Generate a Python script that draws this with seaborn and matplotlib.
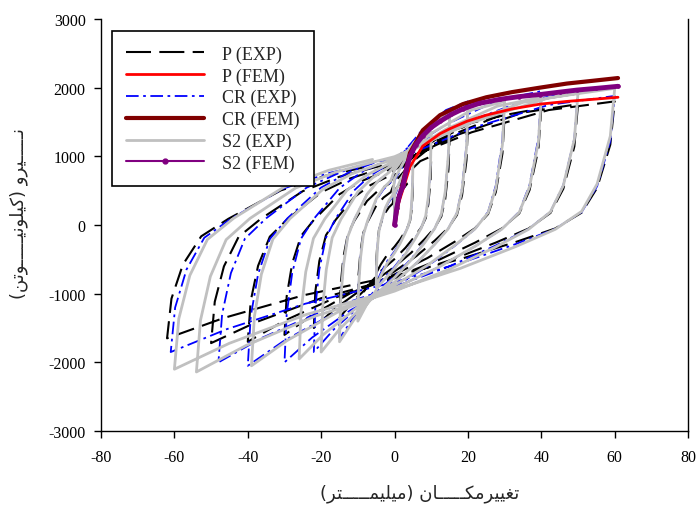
import matplotlib
matplotlib.use("Agg")
import matplotlib.pyplot as plt
from matplotlib.lines import Line2D
import seaborn as sns

# ---- data (displacement mm, force kN) ----
# P (EXP) - black dashed
p_exp_x = [0,
    0, 1.75, 3.5, 5, 4.9, 4.6, 4.25, 3.65, 2.75, 1.5, 0, -2, -3.75, -5, -4.9, -4.65, -4.25, -3.65, -2.5, -1.5, -0.5,
    0, 3.5, 7, 10, 9.8, 9.2, 8.5, 7.3, 5.5, 3, 0, -4, -7.5, -10, -9.8, -9.3, -8.5, -7.3, -5, -3, -1,
    0, 5.25, 10.5, 15, 14.7, 13.8, 12.75, 10.95, 8.25, 4.5, 0, -6, -11.25, -15, -14.7, -13.95, -12.75, -10.95, -7.5, -4.5, -1.5,
    0, 7, 14, 20, 19.6, 18.4, 17, 14.6, 11, 6, 0, -8.8, -16.5, -22, -21.6, -20.5, -18.7, -16.1, -11, -6.6, -2.2,
    0, 10.5, 21, 30, 29.4, 27.6, 25.5, 21.9, 16.5, 9, 0, -12, -22.5, -30, -29.4, -27.9, -25.5, -21.9, -15, -9, -3,
    0, 14, 28, 40, 39.2, 36.8, 34, 29.2, 22, 12, 0, -16, -30, -40, -39.2, -37.2, -34, -29.2, -20, -12, -4,
    0, 17.5, 35, 50, 49, 46, 42.5, 36.5, 27.5, 15, 0, -20, -37.5, -50, -49, -46.5, -42.5, -36.5, -25, -15, -5,
    0, 21, 42, 60, 58.8, 55.2, 51, 43.8, 33, 18, 0, -24.8, -46.5, -62, -60.8, -57.7, -52.7, -45.3, -31, -18.6, -6.2]
p_exp_y = [0,
    325, 488, 604, 650, 422, 195, 65, -21, -105, -210, -315, -434, -574, -700, -455, -245, -70, 32, 182, 260, 312,
    500, 750, 930, 1000, 650, 300, 100, -33, -165, -330, -495, -682, -902, -1100, -715, -385, -110, 50, 280, 400, 480,
    625, 938, 1162, 1250, 812, 375, 125, -40, -202, -405, -608, -837, -1107, -1350, -878, -472, -135, 62, 350, 500, 600,
    725, 1088, 1348, 1450, 942, 435, 145, -45, -225, -450, -675, -930, -1230, -1500, -975, -525, -150, 72, 406, 580, 696,
    800, 1200, 1488, 1600, 1040, 480, 160, -48, -240, -480, -720, -992, -1312, -1600, -1040, -560, -160, 80, 448, 640, 768,
    850, 1275, 1581, 1700, 1105, 510, 170, -51, -255, -510, -765, -1054, -1394, -1700, -1105, -595, -170, 85, 476, 680, 816,
    880, 1320, 1637, 1760, 1144, 528, 176, -52, -258, -516, -774, -1066, -1410, -1720, -1118, -602, -172, 88, 493, 704, 845,
    900, 1350, 1674, 1800, 1170, 540, 180, -50, -248, -495, -742, -1023, -1353, -1650, -1072, -578, -165, 90, 504, 720, 864]

# CR (EXP) - blue dash-dot
cr_exp_x = [0,
    0, 1.75, 3.5, 5, 4.9, 4.6, 4.25, 3.65, 2.75, 1.5, 0, -2, -3.75, -5, -4.9, -4.65, -4.25, -3.65, -2.5, -1.5, -0.5,
    0, 3.5, 7, 10, 9.8, 9.2, 8.5, 7.3, 5.5, 3, 0, -4, -7.5, -10, -9.8, -9.3, -8.5, -7.3, -5, -3, -1,
    0, 5.25, 10.5, 15, 14.7, 13.8, 12.75, 10.95, 8.25, 4.5, 0, -6, -11.25, -15, -14.7, -13.95, -12.75, -10.95, -7.5, -4.5, -1.5,
    0, 7, 14, 20, 19.6, 18.4, 17, 14.6, 11, 6, 0, -8.8, -16.5, -22, -21.6, -20.5, -18.7, -16.1, -11, -6.6, -2.2,
    0, 10.5, 21, 30, 29.4, 27.6, 25.5, 21.9, 16.5, 9, 0, -12, -22.5, -30, -29.4, -27.9, -25.5, -21.9, -15, -9, -3,
    0, 14, 28, 40, 39.2, 36.8, 34, 29.2, 22, 12, 0, -16, -30, -40, -39.2, -37.2, -34, -29.2, -20, -12, -4,
    0, 17.5, 35, 50, 49, 46, 42.5, 36.5, 27.5, 15, 0, -19.2, -36, -48, -47, -44.6, -40.8, -35, -24, -14.4, -4.8,
    0, 21, 42, 60, 58.8, 55.2, 51, 43.8, 33, 18, 0, -24.4, -45.75, -61, -59.8, -56.7, -51.85, -44.5, -30.5, -18.3, -6.1]
cr_exp_y = [0,
    425, 638, 790, 850, 552, 255, 85, -26, -128, -255, -382, -527, -697, -850, -552, -298, -85, 42, 238, 340, 408,
    650, 975, 1209, 1300, 845, 390, 130, -40, -202, -405, -608, -837, -1107, -1350, -878, -472, -135, 65, 364, 520, 624,
    800, 1200, 1488, 1600, 1040, 480, 160, -50, -248, -495, -742, -1023, -1353, -1650, -1072, -578, -165, 80, 448, 640, 768,
    900, 1350, 1674, 1800, 1170, 540, 180, -56, -278, -555, -832, -1147, -1517, -1850, -1202, -648, -185, 90, 504, 720, 864,
    960, 1440, 1786, 1920, 1248, 576, 192, -60, -300, -600, -900, -1240, -1640, -2000, -1300, -700, -200, 96, 538, 768, 922,
    975, 1462, 1814, 1950, 1268, 585, 195, -62, -308, -615, -922, -1271, -1681, -2050, -1332, -718, -205, 98, 546, 780, 936,
    970, 1455, 1804, 1940, 1261, 582, 194, -60, -300, -600, -900, -1240, -1640, -2000, -1300, -700, -200, 97, 543, 776, 931,
    940, 1410, 1748, 1880, 1222, 564, 188, -56, -278, -555, -832, -1147, -1517, -1850, -1202, -648, -185, 94, 526, 752, 902]

# S2 (EXP) - light grey
s2_exp_x = [0,
    0, 1.75, 3.5, 5, 4.9, 4.6, 4.25, 3.65, 2.75, 1.5, 0, -2, -3.75, -5, -4.9, -4.65, -4.25, -3.65, -2.5, -1.5, -0.5,
    0, 3.5, 7, 10, 9.8, 9.2, 8.5, 7.3, 5.5, 3, 0, -4, -7.5, -10, -9.8, -9.3, -8.5, -7.3, -5, -3, -1,
    0, 5.25, 10.5, 15, 14.7, 13.8, 12.75, 10.95, 8.25, 4.5, 0, -6, -11.25, -15, -14.7, -13.95, -12.75, -10.95, -7.5, -4.5, -1.5,
    0, 7, 14, 20, 19.6, 18.4, 17, 14.6, 11, 6, 0, -8, -15, -20, -19.6, -18.6, -17, -14.6, -10, -6, -2,
    0, 10.5, 21, 30, 29.4, 27.6, 25.5, 21.9, 16.5, 9, 0, -10.4, -19.5, -26, -25.5, -24.2, -22.1, -19, -13, -7.8, -2.6,
    0, 14, 28, 40, 39.2, 36.8, 34, 29.2, 22, 12, 0, -15.6, -29.25, -39, -38.2, -36.3, -33.15, -28.5, -19.5, -11.7, -3.9,
    0, 17.5, 35, 50, 49, 46, 42.5, 36.5, 27.5, 15, 0, -21.6, -40.5, -54, -52.9, -50.2, -45.9, -39.4, -27, -16.2, -5.4,
    0, 21, 42, 60, 58.8, 55.2, 51, 43.8, 33, 18, 0, -24, -45, -60, -58.8, -55.8, -51, -43.8, -30, -18, -6]
s2_exp_y = [0,
    450, 675, 837, 900, 585, 270, 90, -27, -135, -270, -405, -558, -738, -900, -585, -315, -90, 45, 252, 360, 432,
    675, 1012, 1255, 1350, 877, 405, 135, -42, -210, -420, -630, -868, -1148, -1400, -910, -490, -140, 68, 378, 540, 648,
    800, 1200, 1488, 1600, 1040, 480, 160, -51, -255, -510, -765, -1054, -1394, -1700, -1105, -595, -170, 80, 448, 640, 768,
    860, 1290, 1600, 1720, 1118, 516, 172, -56, -278, -555, -832, -1147, -1517, -1850, -1202, -648, -185, 86, 482, 688, 826,
    900, 1350, 1674, 1800, 1170, 540, 180, -58, -292, -585, -878, -1209, -1599, -1950, -1268, -682, -195, 90, 504, 720, 864,
    930, 1395, 1730, 1860, 1209, 558, 186, -62, -308, -615, -922, -1271, -1681, -2050, -1332, -718, -205, 93, 521, 744, 893,
    960, 1440, 1786, 1920, 1248, 576, 192, -64, -321, -642, -963, -1327, -1755, -2140, -1391, -749, -214, 96, 538, 768, 922,
    995, 1492, 1851, 1990, 1294, 597, 199, -63, -315, -630, -945, -1302, -1722, -2100, -1365, -735, -210, 100, 557, 796, 955]

# FEM monotonic curves
p_fem_x = [0, 1, 2.3, 4.2, 7.7, 12.4, 15, 19.7, 25, 32, 39.6, 47, 54, 60.9]
p_fem_y = [0, 300, 520, 850, 1150, 1330, 1400, 1510, 1600, 1690, 1760, 1800, 1830, 1860]
cr_fem_x = [0, 1, 2.3, 4.2, 7.7, 12.4, 18.6, 25, 32, 39.6, 47, 54, 60.9]
cr_fem_y = [0, 350, 620, 1050, 1380, 1600, 1760, 1860, 1935, 2000, 2060, 2100, 2140]
s2_fem_x = [0, 0.6, 1.3, 2.3, 3.2, 4.2, 5.8, 7.7, 10, 12.4, 15.5, 18.6, 23, 28.7, 34, 39.6, 45, 49.7, 55, 60.9]
s2_fem_y = [0, 250, 430, 570, 800, 1000, 1170, 1300, 1420, 1510, 1610, 1690, 1770, 1830, 1870, 1900, 1935, 1965, 1990, 2020]

legend_labels = ["P (EXP)", "P (FEM)", "CR (EXP)", "CR (FEM)", "S2 (EXP)", "S2 (FEM)"]

# Persian axis titles, pre-shaped (presentation forms, visual order)
kash = "\u0640" * 5
xlabel_txt = ("(\uFEAE\uFE98" + kash + "\uFEE4\uFBFF\uFEE0\uFBFF\uFEE3) "
              "\uFEE5\uFE8E" + kash + "\uFB91\uFEE3\uFEAE\uFBFF\uFBFF\uFED0\uFE97")
ylabel_txt = ("(\uFEE6\uFE97\uFEEE" + kash + "\uFBFF\uFEE7\uFEEE\uFEE0\uFBFF\uFB90) "
              "\uFEED\uFEAE\uFBFF" + kash + "\uFEE7")

sns.set_theme(style="white")
plt.rcParams['font.family'] = ['Liberation Serif', 'DejaVu Sans']
plt.rcParams['axes.unicode_minus'] = False

fig = plt.figure(figsize=(7, 5.06), dpi=100)
ax = fig.add_axes([0.1443, 0.1462, 0.8387, 0.8143])

sns.lineplot(x=p_exp_x, y=p_exp_y, sort=False, estimator=None, ax=ax,
             color="black", lw=1.5, linestyle=(0, (9, 4)))
sns.lineplot(x=cr_exp_x, y=cr_exp_y, sort=False, estimator=None, ax=ax,
             color="#0000ff", lw=1.3, linestyle=(0, (7, 2.5, 1.5, 2.5)))
sns.lineplot(x=s2_exp_x, y=s2_exp_y, sort=False, estimator=None, ax=ax,
             color="#c0c0c0", lw=2.0)
sns.lineplot(x=p_fem_x, y=p_fem_y, sort=False, estimator=None, ax=ax,
             color="#ff0000", lw=2.0)
sns.lineplot(x=cr_fem_x, y=cr_fem_y, sort=False, estimator=None, ax=ax,
             color="#800000", lw=3.0)
sns.lineplot(x=s2_fem_x, y=s2_fem_y, sort=False, estimator=None, ax=ax,
             color="#800080", lw=3.5, marker="o", markersize=2.5,
             markeredgecolor="#800080", markerfacecolor="#800080")

ax.set_xlim(-80, 80)
ax.set_ylim(-3000, 3000)
ax.set_xticks(range(-80, 81, 20))
ax.set_yticks(range(-3000, 3001, 1000))
ax.tick_params(axis="both", direction="out", length=5, width=1, color="black",
               labelsize=11.5, labelcolor="black", bottom=True, left=True)
ax.tick_params(axis="x", pad=8)
ax.tick_params(axis="y", pad=6)
for side in ["left", "bottom", "right"]:
    ax.spines[side].set_color("black")
    ax.spines[side].set_linewidth(1.0)
ax.spines["top"].set_visible(False)

ax.set_xlabel(xlabel_txt, fontsize=13, family=['DejaVu Sans'])
ax.set_ylabel(ylabel_txt, fontsize=13, family=['DejaVu Sans'])
ax.xaxis.set_label_coords(0.543, -0.128)
ax.yaxis.set_label_coords(-0.125, 0.53)

handles = [
    Line2D([], [], color="black", lw=1.5, linestyle=(0, (12, 4))),
    Line2D([], [], color="#ff0000", lw=2.0),
    Line2D([], [], color="#0000ff", lw=1.3, linestyle=(0, (7, 2.5, 1.5, 2.5))),
    Line2D([], [], color="#800000", lw=3.0),
    Line2D([], [], color="#c0c0c0", lw=2.0),
    Line2D([], [], color="#800080", lw=1.5, marker="o", markersize=3.5),
]
leg = ax.legend(handles, legend_labels, loc="upper left", bbox_to_anchor=(0.0187, 0.971),
                fontsize=13, frameon=True, fancybox=False, framealpha=1,
                edgecolor="black", handlelength=4.3, handletextpad=1.0,
                borderpad=0.8, labelspacing=0.25, borderaxespad=0)
leg.get_frame().set_linewidth(1.2)

fig.savefig("out.png", dpi=100)
